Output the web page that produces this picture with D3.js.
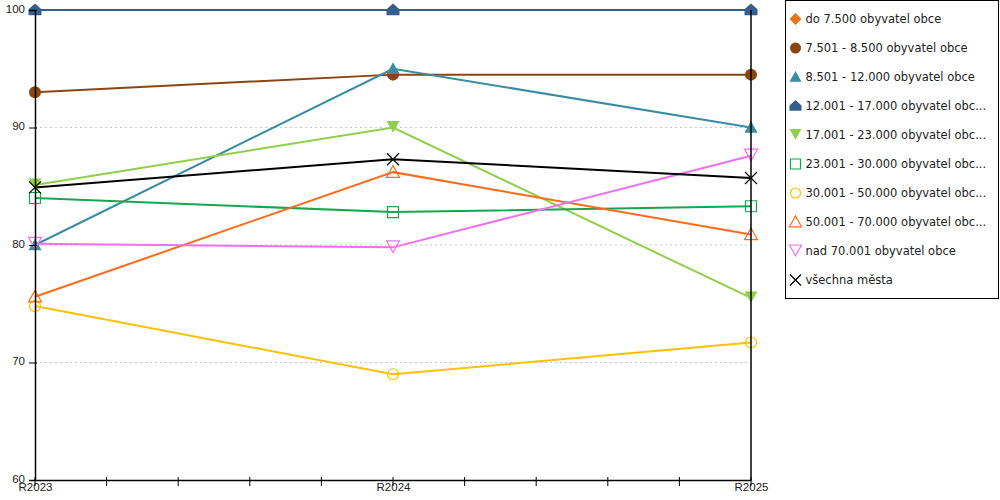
<!DOCTYPE html>
<html>
<head>
<meta charset="utf-8">
<script src="https://cdn.jsdelivr.net/npm/d3@7"></script>
<style>
  body { margin: 0; background: #fff; }
  svg { font-family: "DejaVu Sans", Verdana, sans-serif; }
  .grid line { stroke: #c8c8c8; stroke-dasharray: 2,3; }
</style>
</head>
<body>
<svg width="1000" height="500"></svg>
<script>
const years = ['R2023', 'R2024', 'R2025'];
const yTicks = [60, 70, 80, 90, 100];

const seriesNames = [
  'do 7.500 obyvatel obce',
  '7.501 - 8.500 obyvatel obce',
  '8.501 - 12.000 obyvatel obce',
  '12.001 - 17.000 obyvatel obc...',
  '17.001 - 23.000 obyvatel obc...',
  '23.001 - 30.000 obyvatel obc...',
  '30.001 - 50.000 obyvatel obc...',
  '50.001 - 70.000 obyvatel obc...',
  'nad 70.001 obyvatel obce',
  'všechna města'
];
const seriesValues = [
  [],
  [93.0, 94.5, 94.5],
  [80.0, 95.0, 90.0],
  [100, 100, 100],
  [85.1, 90.0, 75.5],
  [84.0, 82.8, 83.3],
  [74.8, 69.0, 71.7],
  [75.6, 86.2, 80.9],
  [80.1, 79.8, 87.6],
  [84.9, 87.3, 85.7]
];
const seriesColors = ['#e8711a', '#8b4513', '#3a8ba3', '#355e8f', '#8fcf4a',
  '#12a84f', '#ffc000', '#ff6b1a', '#f070f0', '#000000'];
const seriesShapes = ['diamond', 'circle', 'triangle', 'house', 'triangleDown',
  'square', 'circle', 'triangle', 'triangleDown', 'cross'];
const seriesFilled = [true, true, true, true, true, false, false, false, false, false];

const margin = { left: 35, right: 249, top: 10, bottom: 20 };

const svg = d3.select('svg');
const width = +svg.attr('width');
const height = +svg.attr('height');
const innerWidth = width - margin.left - margin.right;
const innerHeight = height - margin.top - margin.bottom;

const x = d3.scalePoint().domain(years).range([0, innerWidth]);
const y = d3.scaleLinear().domain([60, 100]).range([innerHeight, 0]);

const g = svg.append('g')
  .attr('transform', `translate(${margin.left},${margin.top})`);

// dotted grid
g.append('g').attr('class', 'grid')
  .selectAll('line').data(yTicks.filter(t => t > 60 && t < 100))
  .enter().append('line')
  .attr('x1', 0).attr('x2', innerWidth)
  .attr('y1', d => y(d)).attr('y2', d => y(d));

// marker path builder
const markerPath = (shape, s) => {
  switch (shape) {
    case 'diamond': return `M0,${-s}L${s},0L0,${s}L${-s},0Z`;
    case 'triangle': return `M0,${-s}L${s},${s * 0.8}L${-s},${s * 0.8}Z`;
    case 'triangleDown': return `M0,${s * 0.8}L${s},${-s}L${-s},${-s}Z`;
    case 'house': return `M0,${-s}L${s},${-s * 0.1}L${s},${s * 0.8}L${-s},${s * 0.8}L${-s},${-s * 0.1}Z`;
    case 'square': return `M${-s},${-s}H${s}V${s}H${-s}Z`;
    case 'cross': return `M${-s},${-s}L${s},${s}M${s},${-s}L${-s},${s}`;
    default: return d3.arc()({ innerRadius: 0, outerRadius: s, startAngle: 0, endAngle: 2 * Math.PI });
  }
};
const markerSize = (shape, filled) => {
  if (shape === 'circle') return filled ? 6 : 5.5;
  if (shape === 'square') return 5.5;
  if (shape === 'cross') return 6;
  return 6.5;
};

const drawMarker = (sel, i) => {
  const shape = seriesShapes[i];
  const filled = seriesFilled[i];
  const c = seriesColors[i];
  sel.append('path')
    .attr('d', markerPath(shape, markerSize(shape, filled)))
    .attr('fill', filled ? c : (shape === 'cross' ? 'none' : '#fff'))
    .attr('fill-opacity', filled ? 1 : 0)
    .attr('stroke', filled ? 'none' : c)
    .attr('stroke-width', 1.2);
};

const line = d3.line()
  .x((d, i) => x(years[i]))
  .y(d => y(d));

seriesValues.forEach((vals, i) => {
  if (!vals.length) return;
  g.append('path')
    .datum(vals)
    .attr('fill', 'none')
    .attr('stroke', seriesColors[i])
    .attr('stroke-width', 2)
    .attr('d', line);
});

seriesValues.forEach((vals, i) => {
  g.selectAll(null).data(vals).enter().append('g')
    .attr('transform', (d, j) => `translate(${x(years[j])},${y(d)})`)
    .each(function () { drawMarker(d3.select(this), i); });
});

// axes
const yAxis = d3.axisLeft(y).tickValues(yTicks).tickSize(6).tickPadding(4);
const yAxisG = g.append('g').call(yAxis);
yAxisG.select('.domain').attr('stroke', '#000').attr('stroke-width', 1.5);
yAxisG.selectAll('.tick line').attr('x2', -6).attr('x1', 2);
yAxisG.selectAll('.tick text')
  .attr('font-size', 11.5).attr('fill', '#222').attr('dy', '0.2em');

// right border
g.append('line')
  .attr('x1', innerWidth).attr('x2', innerWidth)
  .attr('y1', 0).attr('y2', innerHeight)
  .attr('stroke', '#000').attr('stroke-width', 1.5);

const xAxis = d3.axisBottom(x).tickSize(0).tickPadding(5);
const xAxisG = g.append('g').attr('transform', `translate(0,${innerHeight})`).call(xAxis);
xAxisG.select('.domain').attr('stroke', '#000').attr('stroke-width', 1.5);
xAxisG.selectAll('.tick text').attr('font-size', 11.5).attr('fill', '#222').attr('dy', '0.5em');

// minor ticks between categories
const xMinor = d3.scaleLinear().domain([0, 10]).range([0, innerWidth]);
xAxisG.selectAll('.minor').data(d3.range(0, 11))
  .enter().append('line')
  .attr('class', 'minor')
  .attr('x1', d => xMinor(d)).attr('x2', d => xMinor(d))
  .attr('y1', -3).attr('y2', 6)
  .attr('stroke', '#000');

// legend
const legendG = svg.append('g').attr('transform', 'translate(785.5,0.5)');
legendG.append('rect')
  .attr('width', 213).attr('height', 298)
  .attr('fill', '#fff').attr('stroke', '#000');

const legendItems = legendG.selectAll('.item').data(seriesNames)
  .enter().append('g')
  .attr('class', 'item')
  .attr('transform', (d, i) => `translate(10,${18.5 + i * 29})`);

legendItems.each(function (d, i) {
  const item = d3.select(this);
  const mg = item.append('g');
  const shape = seriesShapes[i];
  const filled = seriesFilled[i];
  mg.append('path')
    .attr('d', markerPath(shape, markerSize(shape, filled) - 0.5))
    .attr('fill', filled ? seriesColors[i] : 'none')
    .attr('stroke', filled ? 'none' : seriesColors[i])
    .attr('stroke-width', 1.2);
  item.append('text')
    .attr('x', 10)
    .attr('dy', '0.35em')
    .attr('font-size', 11.5)
    .attr('fill', '#222')
    .text(d);
});
</script>
</body>
</html>
